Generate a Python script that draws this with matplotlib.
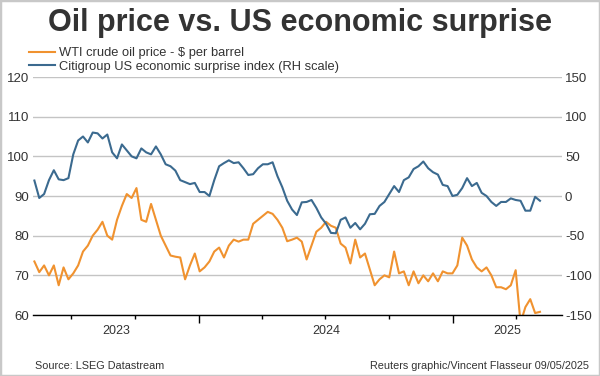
import numpy as np
import pandas as pd
import matplotlib
matplotlib.use("Agg")
import matplotlib.pyplot as plt
import matplotlib.dates as mdates
from matplotlib.lines import Line2D
from matplotlib.patches import Rectangle

plt.rcParams['font.family'] = ['Liberation Sans', 'DejaVu Sans']
plt.rcParams['axes.unicode_minus'] = False

# weekly readings, 9 May 2023 -> 6 May 2025
dates = pd.date_range('2023-05-09', periods=105, freq='7D')

wti = [73.5, 70.8, 72.5, 70, 72.5, 67.5, 72, 69, 70.5, 72.5,
       76, 77.5, 80, 81.5, 83.5, 80, 79, 84, 87.5, 90.5,
       89.5, 92, 84, 83.5, 88, 84, 80, 77.5, 75, 74.7,
       74.5, 69, 72.5, 75.5, 71, 72, 73.5, 76, 77, 74.5,
       77.5, 79, 78.5, 79, 79, 83, 84, 85, 86, 85.5,
       84, 82, 78.6, 79, 79.5, 78.5, 74, 77.5, 81, 82,
       83.5, 82.5, 82, 78, 77, 73, 79, 74.5, 75.5, 71.5,
       67.5, 69, 70, 69.5, 76, 70.5, 71, 67.5, 71, 68,
       70, 68.5, 70.5, 68.5, 71, 70.5, 70.5, 72.5, 79.5, 77.5,
       74, 72, 71, 72, 70, 67, 67, 66.5, 67.5, 71.3,
       58, 62, 64, 60.5, 60.8]

surprise = [19.5, -2.5, 2.5, 20, 32.5, 21, 20, 22.5, 52.5, 70,
            75, 67.5, 80, 79, 72.5, 77.5, 55, 47.5, 65, 57.5,
            50, 47.5, 60, 55, 52.5, 62.5, 52.5, 40, 37.5, 32,
            20, 17.5, 15, 16.5, 5, 5, 0, 20, 37.5, 41.5,
            45, 41.5, 42.5, 35, 26.5, 27.5, 35, 40, 40, 42.5,
            25, 11, -6, -17, -24, -8, -7.5, -5, -15, -27,
            -35, -46.5, -47, -30, -27, -40, -34, -42, -35, -23,
            -22.5, -12.5, -7.5, 2.5, 12.5, 5, 20, 23.5, 34, 37.5,
            43.5, 35, 30, 27, 14, 12.5, 0, 1.5, 10, 22.5,
            12.5, 16.5, 4, 0, -7.5, -12.5, -7.5, -7.5, -3, -5,
            -6, -18.5, -18.5, -1, -6]

left_ticks = [60, 70, 80, 90, 100, 110, 120]
right_ticks = [-150, -100, -50, 0, 50, 100, 150]
years = [2023, 2024, 2025]

ORANGE = '#f0922f'
BLUE = '#3b6a8f'
TXT = '#333333'

fig = plt.figure(figsize=(6.0, 3.76), dpi=100)
ax = fig.add_axes([0.055, 0.1622, 0.882, 0.633])
ax2 = ax.twinx()

ax.plot(dates, wti, color=ORANGE, lw=1.5)
ax2.plot(dates, surprise, color=BLUE, lw=1.5)

xmin, xmax = pd.Timestamp('2023-05-07'), pd.Timestamp('2025-06-07')
ax.set_xlim(xmin, xmax)
ax.set_ylim(60, 120)
ax2.set_ylim(-150, 150)
ax.set_yticks(left_ticks)
ax2.set_yticks(right_ticks)
ax.grid(axis='y', color='#c4c4c4', lw=1)
ax.set_axisbelow(True)

for a in (ax, ax2):
    for s in ('top', 'left', 'right', 'bottom'):
        a.spines[s].set_visible(False)
ax.spines['bottom'].set_visible(True)
ax.spines['bottom'].set_color('black')
ax.spines['bottom'].set_linewidth(1)

ax.tick_params(axis='y', length=0, pad=3, labelsize=9.5, labelcolor=TXT)
ax2.tick_params(axis='y', length=0, pad=2, labelsize=9.5, labelcolor=TXT)

# year boundaries as long ticks, quarters as short ticks
ax.xaxis.set_major_locator(mdates.YearLocator())
ax.xaxis.set_minor_locator(mdates.MonthLocator(bymonth=[4, 7, 10]))
ax.xaxis.set_major_formatter(plt.NullFormatter())
ax.tick_params(axis='x', which='major', length=6, width=1, color='black')
ax.tick_params(axis='x', which='minor', length=3, width=1, color='black')

# year labels centred in the visible part of each year
for y in years:
    a0 = max(xmin, pd.Timestamp(f'{y}-01-01'))
    a1 = min(xmax, pd.Timestamp(f'{y + 1}-01-01'))
    mid = a0 + (a1 - a0) / 2
    ax.text(mid, -0.04, str(y), transform=ax.get_xaxis_transform(),
            ha='center', va='top', fontsize=9, color=TXT)

fig.text(0.5, 0.939, 'Oil price vs. US economic surprise', ha='center',
         va='center', fontsize=22, fontweight='bold', color=TXT)

handles = [Line2D([], [], color=ORANGE, lw=1.5), Line2D([], [], color=BLUE, lw=1.5)]
labels = ['WTI crude oil price - $ per barrel', 'Citigroup US economic surprise index (RH scale)']
fig.legend(handles, labels, loc='upper left', bbox_to_anchor=(0.048, 0.874),
           frameon=False, fontsize=9.3, handlelength=2.0, handletextpad=0.35,
           labelspacing=0.12, borderpad=0, borderaxespad=0, labelcolor=TXT)

fig.text(0.058, 0.027, 'Source: LSEG Datastream', ha='left', va='center',
         fontsize=7.8, color=TXT)
fig.text(0.981, 0.027, 'Reuters graphic/Vincent Flasseur 09/05/2025', ha='right',
         va='center', fontsize=7.8, color=TXT)

fig.add_artist(Rectangle((0, 0), 1, 1, transform=fig.transFigure, fill=False,
                         ec='#c8c8c8', lw=2.5))

fig.savefig('out.png', dpi=100)
